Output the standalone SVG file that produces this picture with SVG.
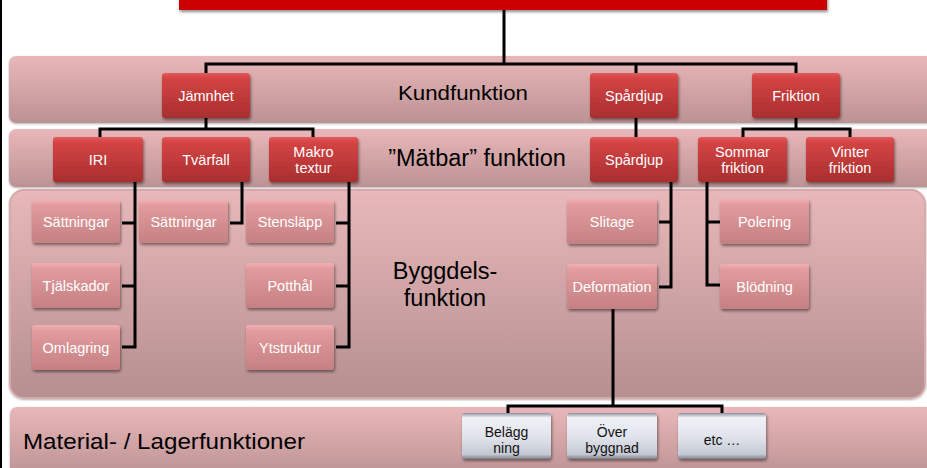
<svg xmlns="http://www.w3.org/2000/svg" width="927" height="468" viewBox="0 0 927 468">
<defs>
<linearGradient id="gBand" x1="0" y1="0" x2="0" y2="1"><stop offset="0" stop-color="#e9b7b9"/><stop offset="1" stop-color="#bc9294"/></linearGradient>
<linearGradient id="gBand3" x1="0" y1="0" x2="0" y2="1"><stop offset="0" stop-color="#e8b8ba"/><stop offset="1" stop-color="#b68f91"/></linearGradient>
<linearGradient id="gRed" x1="0" y1="0" x2="0" y2="1"><stop offset="0" stop-color="#e25a5a"/><stop offset="0.12" stop-color="#d44444"/><stop offset="1" stop-color="#a92e2e"/></linearGradient>
<linearGradient id="gPink" x1="0" y1="0" x2="0" y2="1"><stop offset="0" stop-color="#f0b0b2"/><stop offset="0.12" stop-color="#e39c9e"/><stop offset="1" stop-color="#c48082"/></linearGradient>
<linearGradient id="gGray" x1="0" y1="0" x2="0" y2="1"><stop offset="0" stop-color="#8c909c"/><stop offset="0.1" stop-color="#f0f2f8"/><stop offset="0.55" stop-color="#dfe2ea"/><stop offset="0.9" stop-color="#c4c8d2"/><stop offset="1" stop-color="#7c808c"/></linearGradient>
<filter id="sh" x="-10%" y="-10%" width="130%" height="140%"><feDropShadow dx="1" dy="2" stdDeviation="1.5" flood-color="#000" flood-opacity="0.45"/></filter>
<filter id="shb" x="-5%" y="-10%" width="110%" height="130%"><feDropShadow dx="0" dy="1" stdDeviation="1.2" flood-color="#000" flood-opacity="0.3"/></filter>
</defs>
<style>
.band{fill:url(#gBand);filter:url(#shb)}
.red{fill:url(#gRed);filter:url(#sh)}
.pink{fill:url(#gPink);filter:url(#sh)}
.gray{fill:url(#gGray);filter:url(#sh)}
.nt{font-family:"Liberation Sans",Arial,sans-serif;font-size:14.5px;fill:#fff;text-anchor:middle}
.gt{font-family:"Liberation Sans",Arial,sans-serif;font-size:14px;fill:#111;text-anchor:middle}
.lbl{font-family:"Liberation Sans",Arial,sans-serif;fill:#000}
.con{fill:none;stroke:#000;stroke-width:3}
</style>
<rect x="0" y="0" width="927" height="468" fill="#fff"/>
<line x1="1" y1="0" x2="1" y2="468" stroke="#000" stroke-width="2"/>
<g id="banner"><rect x="179" y="-10" width="648" height="20" fill="#cc0000" filter="url(#sh)"/></g>
<g id="bands">
<rect class="band" x="9" y="56" width="930" height="67" rx="7"/>
<rect class="band" x="9" y="129" width="930" height="58" rx="7"/>
<rect x="10" y="190" width="915" height="208" rx="14" fill="url(#gBand3)" stroke="#d7a9ab" stroke-width="2" filter="url(#shb)"/>
<rect class="band" x="10" y="407" width="930" height="70" rx="7"/>
</g>
<g id="labels">
<text class="lbl" x="463" y="100" font-size="21" text-anchor="middle" textLength="130" lengthAdjust="spacingAndGlyphs">Kundfunktion</text>
<text class="lbl" x="477" y="166" font-size="23.5" text-anchor="middle">”Mätbar” funktion</text>
<text class="lbl" x="445" y="279" font-size="23.5" text-anchor="middle">Byggdels-</text>
<text class="lbl" x="445" y="306" font-size="23.5" text-anchor="middle">funktion</text>
<text class="lbl" x="23" y="449" font-size="22" textLength="282" lengthAdjust="spacingAndGlyphs">Material- / Lagerfunktioner</text>
</g>
<g id="connectors">
<path class="con" d="M504,10V64M206,73V64H796V73M636,64V73"/>
<path class="con" d="M206,118V129M100,137V129H313V137"/>
<path class="con" d="M636,118V137"/>
<path class="con" d="M796,118V129M743,137V129H850V137"/>
<path class="con" d="M135,182V347H122M122,223H135M122,286H135"/>
<path class="con" d="M242,182V223H230"/>
<path class="con" d="M349,182V347H336M336,223H349M336,286H349"/>
<path class="con" d="M671,182V287H659M659,222H671"/>
<path class="con" d="M707,182V285H720M707,222H720"/>
<path class="con" d="M613,309V406M508,414V406H722V414"/>
</g>
<g id="n-jamnhet"><rect class="red" x="162" y="73" width="88" height="45" rx="3"/><text class="nt" x="206" y="101">Jämnhet</text></g>
<g id="n-spardjup1"><rect class="red" x="590" y="73" width="88" height="45" rx="3"/><text class="nt" x="634" y="101">Spårdjup</text></g>
<g id="n-friktion"><rect class="red" x="752" y="73" width="88" height="45" rx="3"/><text class="nt" x="796" y="101">Friktion</text></g>
<g id="n-iri"><rect class="red" x="53" y="137" width="90" height="45" rx="3"/><text class="nt" x="98" y="165">IRI</text></g>
<g id="n-tvarfall"><rect class="red" x="162" y="137" width="88" height="45" rx="3"/><text class="nt" x="206" y="165">Tvärfall</text></g>
<g id="n-makro"><rect class="red" x="269" y="137" width="89" height="45" rx="3"/><text class="nt" x="313.5" y="157">Makro</text><text class="nt" x="313.5" y="173">textur</text></g>
<g id="n-spardjup2"><rect class="red" x="590" y="137" width="88" height="45" rx="3"/><text class="nt" x="634" y="165">Spårdjup</text></g>
<g id="n-sommar"><rect class="red" x="698" y="137" width="89" height="45" rx="3"/><text class="nt" x="742.5" y="157">Sommar</text><text class="nt" x="742.5" y="173">friktion</text></g>
<g id="n-vinter"><rect class="red" x="806" y="137" width="88" height="45" rx="3"/><text class="nt" x="850" y="157">Vinter</text><text class="nt" x="850" y="173">friktion</text></g>
<g id="n-sattningar1"><rect class="pink" x="32" y="200" width="88" height="43" rx="3"/><text class="nt" x="76" y="227">Sättningar</text></g>
<g id="n-tjalskador"><rect class="pink" x="32" y="263" width="88" height="45" rx="3"/><text class="nt" x="76" y="291">Tjälskador</text></g>
<g id="n-omlagring"><rect class="pink" x="32" y="325" width="88" height="45" rx="3"/><text class="nt" x="76" y="353">Omlagring</text></g>
<g id="n-sattningar2"><rect class="pink" x="139" y="200" width="89" height="43" rx="3"/><text class="nt" x="183.5" y="227">Sättningar</text></g>
<g id="n-stenslapp"><rect class="pink" x="246" y="200" width="88" height="43" rx="3"/><text class="nt" x="290" y="227">Stensläpp</text></g>
<g id="n-potthal"><rect class="pink" x="246" y="263" width="88" height="45" rx="3"/><text class="nt" x="290" y="291">Potthål</text></g>
<g id="n-ytstruktur"><rect class="pink" x="246" y="325" width="88" height="45" rx="3"/><text class="nt" x="290" y="353">Ytstruktur</text></g>
<g id="n-slitage"><rect class="pink" x="567" y="199" width="90" height="45" rx="3"/><text class="nt" x="612" y="227">Slitage</text></g>
<g id="n-deformation"><rect class="pink" x="567" y="264" width="90" height="45" rx="3"/><text class="nt" x="612" y="292">Deformation</text></g>
<g id="n-polering"><rect class="pink" x="720" y="199" width="89" height="45" rx="3"/><text class="nt" x="764.5" y="227">Polering</text></g>
<g id="n-blodning"><rect class="pink" x="720" y="264" width="89" height="45" rx="3"/><text class="nt" x="764.5" y="292">Blödning</text></g>
<g id="n-belaggning"><rect class="gray" x="462" y="413" width="89" height="46" rx="3"/><text class="gt" x="506.5" y="437">Belägg</text><text class="gt" x="506.5" y="453">ning</text></g>
<g id="n-overbyggnad"><rect class="gray" x="567" y="413" width="90" height="46" rx="3"/><text class="gt" x="612" y="437">Över</text><text class="gt" x="612" y="453">byggnad</text></g>
<g id="n-etc"><rect class="gray" x="678" y="413" width="88" height="46" rx="3"/><text class="gt" x="722" y="445">etc …</text></g>
</svg>
